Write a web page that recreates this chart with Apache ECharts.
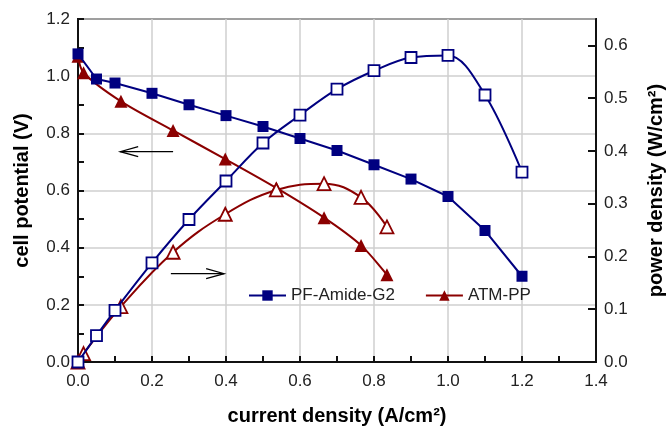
<!DOCTYPE html>
<html>
<head>
<meta charset="utf-8">
<script src="https://cdn.jsdelivr.net/npm/echarts@6/dist/echarts.min.js"></script>
<style>
html,body{margin:0;padding:0;background:#fff;}
#chart{width:667px;height:428px;}
</style>
</head>
<body>
<div id="chart"></div>
<script>
// Data
const pfCurrent = [0, 0.05, 0.1, 0.2, 0.3, 0.4, 0.5, 0.6, 0.7, 0.8, 0.9, 1.0, 1.1, 1.2];
const pfVoltage = [1.078, 0.99, 0.976, 0.94, 0.90, 0.862, 0.824, 0.782, 0.74, 0.69, 0.64, 0.579, 0.46, 0.30];
const pfPower   = [0.0, 0.05, 0.098, 0.188, 0.27, 0.343, 0.415, 0.468, 0.517, 0.552, 0.577, 0.581, 0.506, 0.36];
const atmCurrent = [0, 0.015, 0.116, 0.257, 0.398, 0.536, 0.665, 0.765, 0.835];
const atmVoltage = [1.07, 1.012, 0.912, 0.81, 0.71, 0.609, 0.505, 0.408, 0.305];
const atmPower   = [0.0, 0.016, 0.105, 0.208, 0.28, 0.326, 0.338, 0.312, 0.256];
const seriesNames = ['PF-Amide-G2', 'ATM-PP'];
const xTitle = 'current density (A/cm²)';
const yLeftTitle = 'cell potential (V)';
const yRightTitle = 'power density (W/cm²)';
// annotation arrows, in data coords of the left axis: [from, to]
const arrowLeft = [[0.257, 0.736], [0.114, 0.736]];
const arrowRight = [[0.251, 0.309], [0.395, 0.309]];

const BLUE = '#000080';
const RED = '#8b0000';
const zip = (a, b) => a.map((v, i) => [v, b[i]]);

const chart = echarts.init(document.getElementById('chart'), null, {renderer: 'canvas'});
const FF = 'Liberation Sans, Arial, sans-serif';
const labelFont = {fontFamily: FF, fontSize: 17, color: '#222'};
const titleFont = {fontFamily: FF, fontSize: 20, fontWeight: 'bold', color: '#000'};

const option = {
  animation: false,
  backgroundColor: '#fff',
  grid: {left: 78, right: 71, top: 19, bottom: 66, containLabel: false, outerBoundsMode: 'none', show: true, borderColor: '#111', borderWidth: 2, backgroundColor: 'transparent'},
  legend: {
    data: seriesNames,
    left: 243, top: 282,
    itemWidth: 37, itemHeight: 13, itemGap: 30,
    textStyle: {fontFamily: FF, fontSize: 17, color: '#222'}
  },
  xAxis: {
    type: 'value', min: 0, max: 1.4, interval: 0.2,
    name: xTitle, nameLocation: 'middle', nameGap: 44, nameTextStyle: titleFont,
    axisLine: {show: true, lineStyle: {color: '#111', width: 2}},
    axisTick: {show: true, inside: true, length: 6, lineStyle: {color: '#111', width: 2}},
    minorTick: {show: true, splitNumber: 2, length: 6, lineStyle: {color: '#111', width: 2}},
    axisLabel: Object.assign({margin: 11, formatter: v => v.toFixed(1)}, labelFont),
    splitLine: {show: true, lineStyle: {color: '#cfcfcf', width: 1.5}}
  },
  yAxis: [
    {
      type: 'value', min: 0, max: 1.2, interval: 0.2, position: 'left',
      name: yLeftTitle, nameLocation: 'middle', nameGap: 46, nameTextStyle: titleFont,
      axisLine: {show: true, lineStyle: {color: '#111', width: 2}},
      axisTick: {show: true, inside: true, length: 6, lineStyle: {color: '#111', width: 2}},
      minorTick: {show: true, splitNumber: 2, length: 6, lineStyle: {color: '#111', width: 2}},
      axisLabel: Object.assign({margin: 8, formatter: v => v.toFixed(1)}, labelFont),
      splitLine: {show: true, lineStyle: {color: '#cfcfcf', width: 1.5}}
    },
    {
      type: 'value', min: 0, max: 0.65, interval: 0.1, position: 'right',
      name: yRightTitle, nameLocation: 'middle', nameGap: 50, nameTextStyle: titleFont,
      axisLine: {show: true, lineStyle: {color: '#111', width: 2}},
      axisTick: {show: true, inside: true, length: 8, lineStyle: {color: '#111', width: 2}},
      axisLabel: Object.assign({margin: 8, showMaxLabel: false, formatter: v => (Math.abs(v - 0.65) < 1e-6 ? '' : v.toFixed(1))}, labelFont),
      splitLine: {show: false}
    }
  ],
  series: [
    {
      name: seriesNames[0], type: 'line', yAxisIndex: 0,
      data: zip(pfCurrent, pfVoltage),
      symbol: 'rect', symbolSize: 11,
      lineStyle: {color: BLUE, width: 2}, itemStyle: {color: BLUE}, color: BLUE, z: 3
    },
    {
      name: seriesNames[1], type: 'line', yAxisIndex: 0,
      data: zip(atmCurrent, atmVoltage), smooth: 0.3,
      symbol: 'triangle', symbolSize: 13,
      lineStyle: {color: RED, width: 2}, itemStyle: {color: RED}, color: RED, z: 2
    },
    {
      name: 'pfPower', type: 'line', yAxisIndex: 1,
      data: zip(pfCurrent, pfPower), smooth: 0.35,
      symbol: 'rect', symbolSize: 11,
      lineStyle: {color: BLUE, width: 2}, itemStyle: {color: '#fff', borderColor: BLUE, borderWidth: 1.8}, z: 4
    },
    {
      name: 'atmPower', type: 'line', yAxisIndex: 1,
      data: zip(atmCurrent, atmPower), smooth: 0.4,
      symbol: 'triangle', symbolSize: 13,
      lineStyle: {color: RED, width: 2}, itemStyle: {color: '#fff', borderColor: RED, borderWidth: 1.8}, z: 2
    }
  ]
};
chart.setOption(option);

function arrowGraphic(arr, id) {
  const p0 = chart.convertToPixel({xAxisIndex: 0, yAxisIndex: 0}, arr[0]);
  const p1 = chart.convertToPixel({xAxisIndex: 0, yAxisIndex: 0}, arr[1]);
  const dir = Math.sign(p1[0] - p0[0]);
  const head = 18, half = 5;
  return [
    {type: 'line', id: id + 'a', shape: {x1: p0[0], y1: p0[1], x2: p1[0], y2: p1[1]}, style: {stroke: '#000', lineWidth: 1.2}, z: 10},
    {type: 'polyline', id: id + 'b', shape: {points: [[p1[0] - dir * head, p1[1] - half], [p1[0], p1[1]], [p1[0] - dir * head, p1[1] + half]]}, style: {stroke: '#000', lineWidth: 1.2, fill: null}, z: 10}
  ];
}
chart.setOption({graphic: [].concat(arrowGraphic(arrowLeft, 'l'), arrowGraphic(arrowRight, 'r'))});
</script>
</body>
</html>
